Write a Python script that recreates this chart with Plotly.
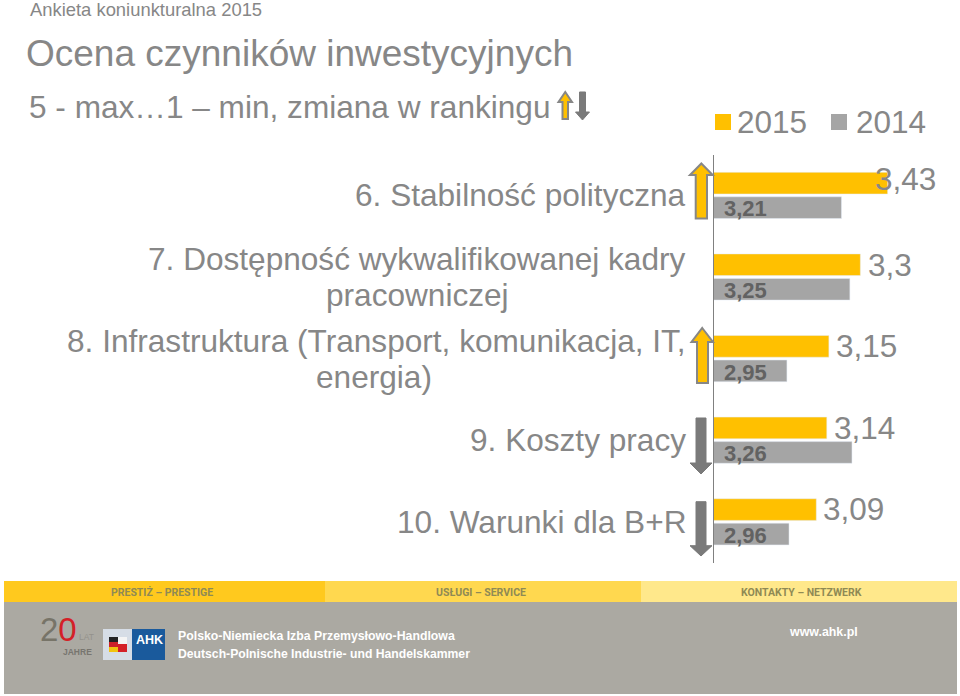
import plotly.graph_objects as go

W, H = 960, 696
categories = ["6. Stabilność polityczna",
              "7. Dostępność wykwalifikowanej kadry pracowniczej",
              "8. Infrastruktura (Transport, komunikacja, IT, energia)",
              "9. Koszty pracy",
              "10. Warunki dla B+R"]
label_lines = [["6. Stabilność polityczna"],
               ["7. Dostępność wykwalifikowanej kadry", "pracowniczej"],
               ["8. Infrastruktura (Transport, komunikacja, IT,", "energia)"],
               ["9. Koszty pracy"],
               ["10. Warunki dla B+R"]]
second_line_x = [None, 417, 373.5, None, None]
values_2015 = [3.43, 3.30, 3.15, 3.14, 3.09]
values_2014 = [3.21, 3.25, 2.95, 3.26, 2.96]
text_2015 = ["3,43", "3,3", "3,15", "3,14", "3,09"]
text_2014 = ["3,21", "3,25", "2,95", "3,26", "2,96"]
label_xshift = [-15, 6, 5, 5, 5]
label_yshift = [16.5, 12, 12.5, 12, 12.5]

GREY = "#878787"
YEL = "#FFC000"
BAR14 = "#A5A5A5"
FONT = "Liberation Sans"
ROBOTO = "Roboto"
AXIS_MIN = 2.6

def px(x): return x / W
def py(y): return 1 - y / H

def path(points):
    return "M" + " L".join(f"{px(x):.5f},{py(y):.5f}" for x, y in points) + " Z"

def arrow_up(l, r, sl, sr, top, sh, bot):
    m = (l + r) / 2
    return path([(m, top), (r, sh), (sr, sh), (sr, bot), (sl, bot), (sl, sh), (l, sh)])

def arrow_down(l, r, sl, sr, top, sh, bot):
    m = (l + r) / 2
    return path([(m, bot), (r, sh), (sr, sh), (sr, top), (sl, top), (sl, sh), (l, sh)])

def rect(x0, y0, x1, y1, color):
    return dict(type="rect", xref="paper", yref="paper", x0=px(x0), x1=px(x1), y0=py(y0), y1=py(y1),
                fillcolor=color, line_width=0, layer="below")

def txt(x, y, s, size, color=GREY, anchor="left", bold=False, family=FONT):
    return dict(xref="paper", yref="paper", x=px(x), y=py(y), text=f"<b>{s}</b>" if bold else s,
                showarrow=False, xanchor=anchor, yanchor="middle",
                font=dict(family=family, size=size, color=color))

fig = go.Figure()
fig.add_bar(name="2015", y=categories, x=values_2015, orientation="h", marker_color=YEL, hoverinfo="skip")
fig.add_bar(name="2014", y=categories, x=values_2014, orientation="h", marker_color=BAR14, hoverinfo="skip")

ann = [
    txt(28, 9, "Ankieta koniunkturalna 2015", 18.4),
    txt(24, 53, "Ocena czynników inwestycyjnych", 37),
    txt(27, 107, "5 - max…1 – min, zmiana w rankingu", 31.6),
    txt(735, 122, "2015", 31.5),
    txt(854, 122, "2014", 31.5),
]
centers = [195.4, 277.0, 358.6, 440.2, 521.8]
for c, lines, lx in zip(centers, label_lines, second_line_x):
    if len(lines) == 1:
        ann.append(txt(688, c, lines[0], 31.6, anchor="right"))
    else:
        ann.append(txt(688, c - 18, lines[0], 31.6, anchor="right"))
        ann.append(txt(lx, c + 18, lines[1], 31.6, anchor="center"))
for cat, v, t, dx, dy in zip(categories, values_2015, text_2015, label_xshift, label_yshift):
    ann.append(dict(xref="x", yref="y", x=v, y=cat, text=t, showarrow=False, xanchor="left",
                    yanchor="middle", xshift=dx, yshift=dy,
                    font=dict(family=FONT, size=31.5, color=GREY)))
for cat, t in zip(categories, text_2014):
    ann.append(dict(xref="x", yref="y", x=AXIS_MIN, y=cat, text=f"<b>{t}</b>", showarrow=False,
                    xanchor="left", yanchor="middle", xshift=8, yshift=-13.6,
                    font=dict(family=FONT, size=22, color="#626262")))

# footer text
DK = "#8f8a55"
ann += [
    txt(162, 592, "PRESTIŻ – PRESTIGE", 10.5, DK, "center", True, ROBOTO),
    txt(481, 592, "USŁUGI – SERVICE", 10.5, DK, "center", True, ROBOTO),
    txt(801, 592, "KONTAKTY – NETZWERK", 10.5, DK, "center", True, ROBOTO),
    txt(176, 636, "Polsko-Niemiecka Izba Przemysłowo-Handlowa", 12.3, "#ffffff", bold=True),
    txt(176, 654, "Deutsch-Polnische Industrie- und Handelskammer", 12.2, "#ffffff", bold=True),
    txt(787, 632, "www.ahk.pl", 12.4, "#ffffff", bold=True),
    txt(134, 640, "AHK", 12.5, "#ffffff", "left", True),
    txt(77, 637, "LAT", 8.5, "#94928c"),
    txt(61, 652, "JAHRE", 8.5, "#77756f", bold=True),
    dict(xref="paper", yref="paper", x=px(38), y=py(629), xanchor="left", yanchor="middle",
         showarrow=False, font=dict(family=FONT, size=33),
         text='<span style="color:#777468">2</span><span style="color:#d42027">0</span>'),
]

shapes = [
    rect(4, 581, 325, 602, "#FFC91E"),
    rect(325, 581, 641, 602, "#FFD84F"),
    rect(641, 581, 957, 602, "#FFE88B"),
    rect(4, 602, 957, 694, "#ABA9A2"),
    rect(103, 629, 132, 660, "#D6DDE6"),
    rect(132, 629, 165, 660, "#1A5A9C"),
    rect(109, 637, 118, 642, "#222222"),
    rect(109, 642, 118, 647, "#cc2229"),
    rect(109, 647, 118, 652, "#f1c40f"),
    rect(118, 637, 127, 644, "#f4f4f4"),
    rect(118, 644, 127, 652, "#d42027"),
    rect(715, 114, 731, 130, YEL),
    rect(831, 114, 847, 130, BAR14),
]
for kind, d in [("up", arrow_up(690, 712.7, 695.7, 707, 163.5, 175, 218.5)),
                ("up", arrow_up(691.5, 713, 697, 708, 328, 342, 383)),
                ("down", arrow_down(690, 712, 696, 706, 418, 463, 474)),
                ("down", arrow_down(690, 712, 696, 706, 501.7, 545.7, 556)),
                ("up", arrow_up(558.5, 572, 562.5, 568, 92, 102, 119)),
                ("down", arrow_down(575.5, 589.5, 579.5, 585.5, 92, 112, 120))]:
    if kind == "up":
        shapes.append(dict(type="path", xref="paper", yref="paper", path=d, fillcolor=YEL,
                           line=dict(color=GREY, width=2)))
    else:
        shapes.append(dict(type="path", xref="paper", yref="paper", path=d, fillcolor="#7a7a7a",
                           line=dict(color="#7a7a7a", width=1)))

X0, X_END = 713.5, 955
SCALE = 209.8
fig.update_layout(
    width=W, height=H, margin=dict(l=0, r=0, t=0, b=0), autosize=False,
    paper_bgcolor="white", plot_bgcolor="rgba(0,0,0,0)", showlegend=False,
    barmode="group", bargap=0.4, bargroupgap=0.114,
    annotations=ann, shapes=shapes,
    xaxis=dict(domain=[X0 / W, X_END / W], range=[AXIS_MIN, AXIS_MIN + (X_END - X0) / SCALE],
               visible=False, fixedrange=True),
    yaxis=dict(domain=[py(562.6), py(154.6)], autorange="reversed", showticklabels=False,
               ticks="", showline=True, linecolor="#808080", linewidth=1, showgrid=False,
               fixedrange=True, anchor="x"),
)
fig.write_html("out.html", config={"displayModeBar": False},
               post_script="document.body.style.margin='0';document.body.style.overflow='hidden';")
